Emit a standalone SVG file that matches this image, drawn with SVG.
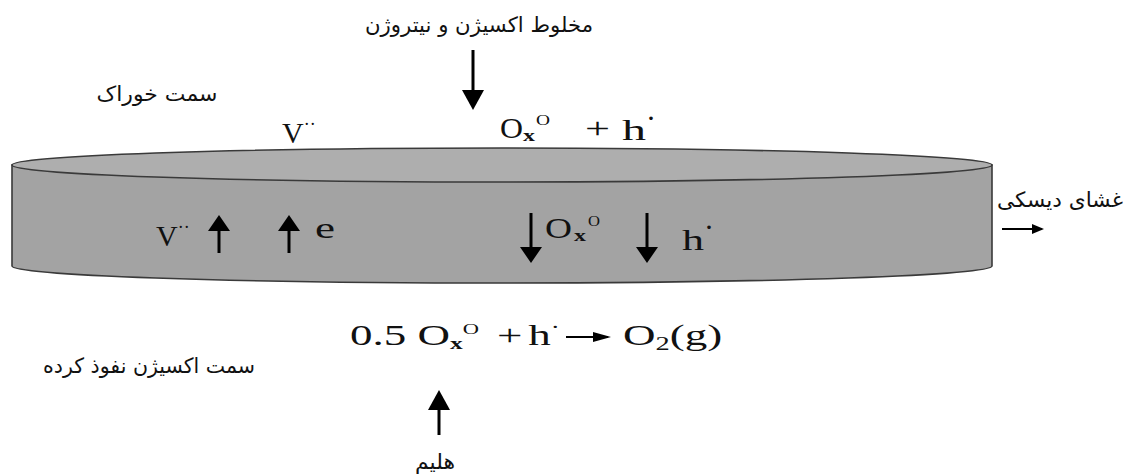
<svg xmlns="http://www.w3.org/2000/svg" width="1128" height="476" viewBox="0 0 1128 476">
<style>
.fa{font-family:"DejaVu Sans","Noto Sans",sans-serif;font-size:21px;fill:#111}
.m{font-family:"Liberation Serif","Times New Roman",serif;font-size:30px;fill:#111}
.sub{font-size:17px;font-weight:bold}
.sup{font-size:15px}
.ar{stroke:#000;stroke-width:3;fill:none}
.face{stroke:#3a3a3a;stroke-width:1.6}
</style>
<defs>
<marker id="big" viewBox="0 0 20 22" refX="16" refY="11" markerWidth="20" markerHeight="22" markerUnits="userSpaceOnUse" orient="auto">
<path d="M0,0 L20,11 L0,22 Z" fill="#000"/>
</marker>
<marker id="mid" viewBox="0 0 16 22" refX="12" refY="11" markerWidth="16" markerHeight="22" markerUnits="userSpaceOnUse" orient="auto">
<path d="M0,0 L16,11 L0,22 Z" fill="#000"/>
</marker>
<marker id="small" viewBox="0 0 12 10" refX="10" refY="5" markerWidth="12" markerHeight="10" markerUnits="userSpaceOnUse" orient="auto">
<path d="M0,0 L12,5 L0,10 Z" fill="#000"/>
</marker>
</defs>
<rect width="1128" height="476" fill="#fff"/>

<g id="disc">
<path class="face" d="M12,165 L12,266 A490,17 0 0 0 992,266 L992,165 Z" fill="#a3a3a3"/>
<ellipse class="face" cx="502" cy="165" rx="490" ry="17" fill="#aeaeae"/>
</g>

<g id="gas-mix"><text class="fa" x="479" y="32" text-anchor="middle" textLength="228" lengthAdjust="spacingAndGlyphs">مخلوط اکسیژن و نیتروژن</text></g>
<g id="feed-side"><text class="fa" x="157" y="101" text-anchor="middle" textLength="121" lengthAdjust="spacingAndGlyphs">سمت خوراک</text></g>
<g id="membrane-label"><text class="fa" x="1060" y="207" text-anchor="middle" textLength="126" lengthAdjust="spacingAndGlyphs">غشای دیسکی</text></g>
<g id="permeate-side"><text class="fa" x="149" y="373" text-anchor="middle" textLength="212" lengthAdjust="spacingAndGlyphs">سمت اکسیژن نفوذ کرده</text></g>
<g id="helium"><text class="fa" x="435" y="469" text-anchor="middle" textLength="40" lengthAdjust="spacingAndGlyphs">هلیم</text></g>

<g id="top-species">
<text class="m" x="282" y="143" font-size="32">V<tspan font-size="18" dy="-13">··</tspan></text>
<text class="m" x="500" y="138" textLength="23" lengthAdjust="spacingAndGlyphs">O</text>
<text class="m sub" x="523" y="141" textLength="12" lengthAdjust="spacingAndGlyphs">x</text>
<text class="m sup" x="536" y="125" textLength="14" lengthAdjust="spacingAndGlyphs">O</text>
<text class="m" x="585" y="138" textLength="25" lengthAdjust="spacingAndGlyphs">+</text>
<text class="m" x="622" y="140" font-size="33" textLength="24" lengthAdjust="spacingAndGlyphs">h</text>
<text class="m" x="646" y="128" font-size="18">·</text>
</g>

<g id="inner-left">
<text class="m" x="156" y="246" font-size="32">V<tspan font-size="18" dy="-13">··</tspan></text>
<text class="m" x="315" y="238" font-size="32" textLength="20" lengthAdjust="spacingAndGlyphs">e</text>
</g>

<g id="inner-right">
<text class="m" x="545" y="238" font-size="28" textLength="27" lengthAdjust="spacingAndGlyphs">O</text>
<text class="m sub" x="574" y="241" font-size="16" textLength="12" lengthAdjust="spacingAndGlyphs">x</text>
<text class="m sup" x="588" y="226" font-size="14" textLength="12" lengthAdjust="spacingAndGlyphs">O</text>
<text class="m" x="682" y="250" font-size="33" textLength="22" lengthAdjust="spacingAndGlyphs">h</text>
<text class="m" x="704" y="237" font-size="18">·</text>
</g>

<g id="reaction" transform="translate(350,345) scale(1.5,1)">
<text class="m" x="0" y="0" font-size="31">0.5 O<tspan class="sub" dy="4">x</tspan><tspan class="sup" dy="-15">O</tspan><tspan dy="11" dx="12">+</tspan><tspan dx="4">h</tspan><tspan font-size="18" dy="-12">·</tspan></text>
<line x1="144" y1="-8" x2="172" y2="-8" stroke="#000" stroke-width="2" marker-end="url(#small)"/>
<text class="m" x="182" y="0" font-size="31">O<tspan font-size="19" dy="5">2</tspan><tspan dy="-5">(g)</tspan></text>
</g>

<g id="connectors">
<line class="ar" x1="473" y1="50" x2="473" y2="106" marker-end="url(#big)"/>
<line class="ar" x1="439" y1="435" x2="439" y2="394" marker-end="url(#big)"/>
<line class="ar" x1="219" y1="253" x2="219" y2="219" marker-end="url(#mid)"/>
<line class="ar" x1="289" y1="253" x2="289" y2="219" marker-end="url(#mid)"/>
<line class="ar" x1="531" y1="213" x2="531" y2="259" marker-end="url(#mid)"/>
<line class="ar" x1="647" y1="213" x2="647" y2="259" marker-end="url(#mid)"/>
<line x1="1002" y1="229" x2="1042" y2="229" stroke="#000" stroke-width="1.8" marker-end="url(#small)"/>
</g>
</svg>
